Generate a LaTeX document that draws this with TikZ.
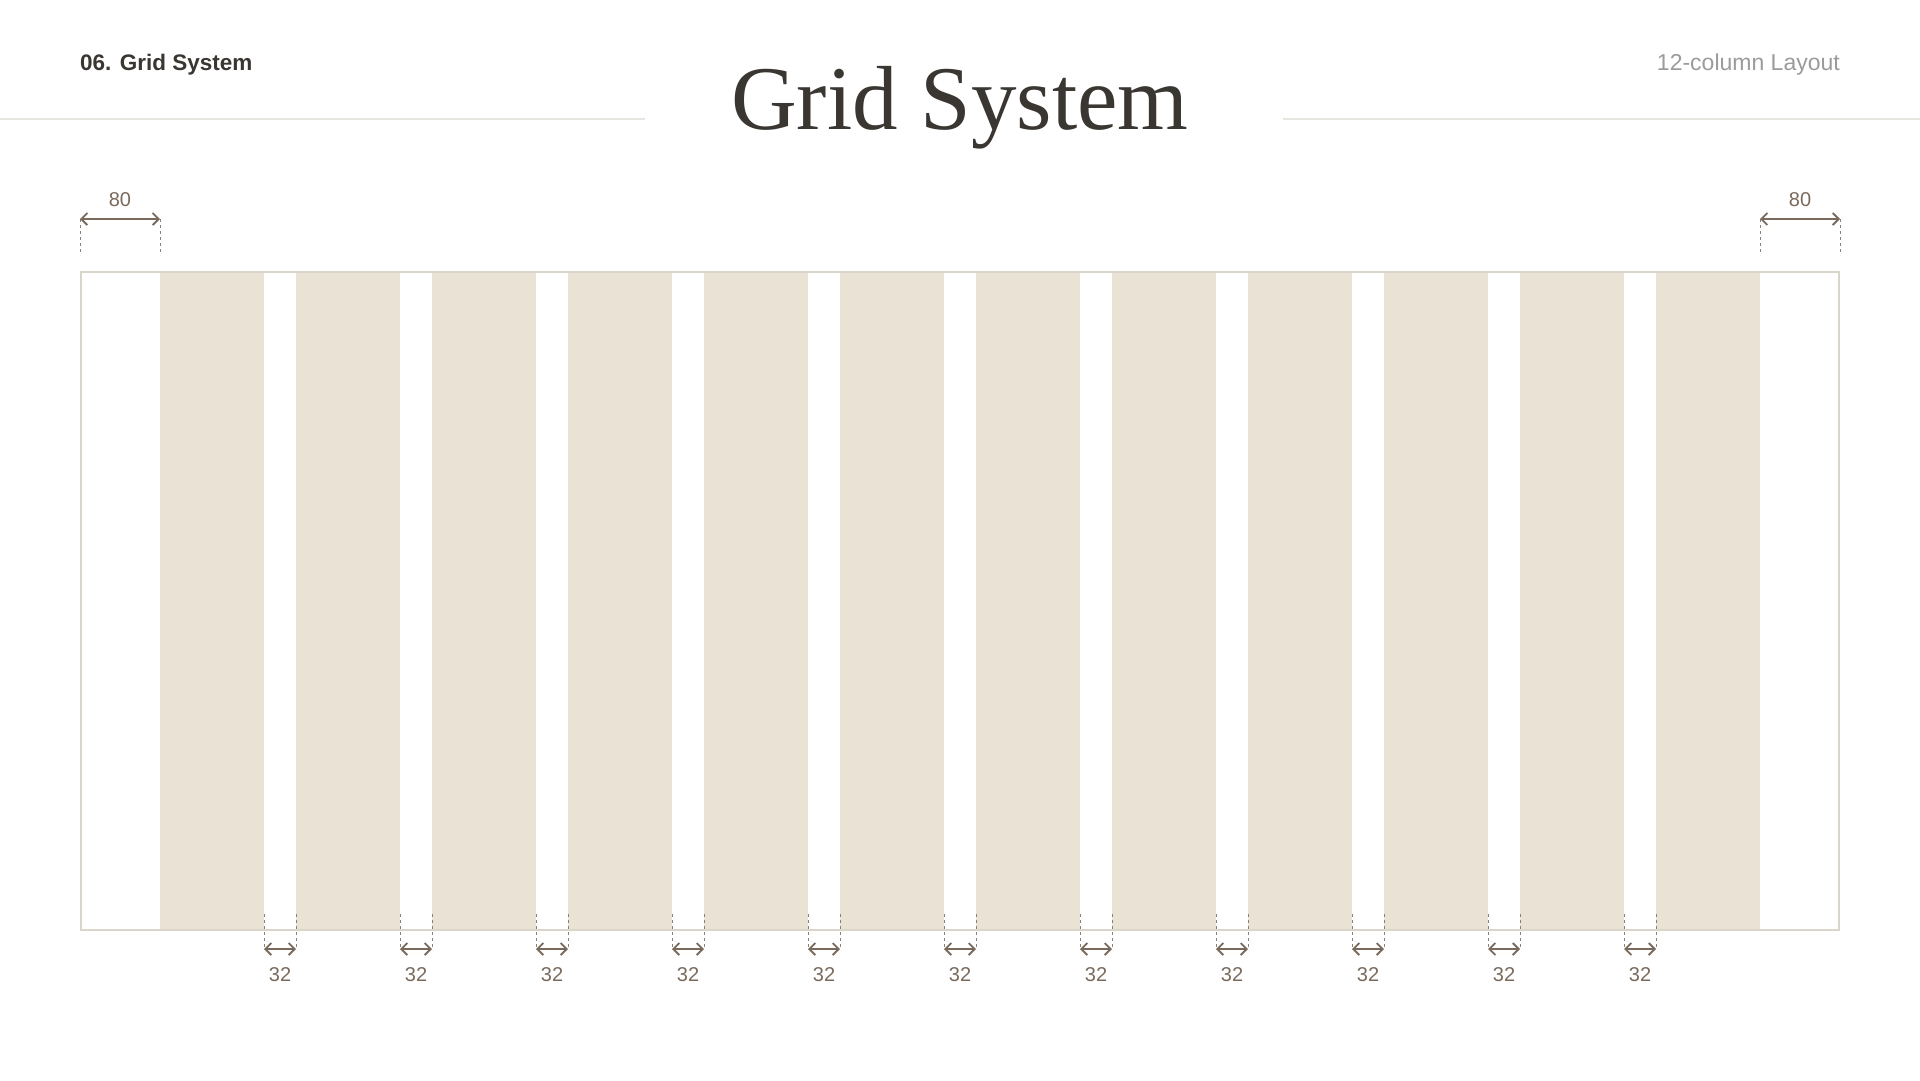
\documentclass[tikz,border=0pt]{standalone}
\usepackage{fontspec}
\setmainfont{Liberation Serif}
\setsansfont{Liberation Sans}
\usepackage{tikz}
\usetikzlibrary{arrows.meta}
\definecolor{ink}{HTML}{3A3631}
\definecolor{rulegray}{HTML}{E7E5E0}
\definecolor{colfill}{HTML}{EAE3D5}
\definecolor{framegray}{HTML}{D9D5CA}
\definecolor{dimbrown}{HTML}{7A6A5B}
\definecolor{subgray}{HTML}{9B9B9B}
\newcommand{\px}[1]{\fontsize{#1}{#1}\selectfont}
\tikzset{
	dimline/.style={dimbrown, line width=1.8pt, {Straight Barb[length=6pt, width=12pt]}-{Straight Barb[length=6pt, width=12pt]}},
	extline/.style={dimbrown!85, line width=1pt, dash pattern=on 3pt off 3pt},
	dimlabel/.style={text=dimbrown, font=\sffamily\px{20}, inner sep=0pt},
}

\begin{document}
\begin{tikzpicture}[x=1pt, y=-1pt]
		\useasboundingbox[fill=white](0, 0)rectangle(1920, 1080);
		\node[anchor=base west, inner sep=0pt, text=ink, font=\sffamily\bfseries\px{22.5}](section)at(80, 70){06. Grid System};
		\node[anchor=base east, inner sep=0pt, text=subgray, font=\sffamily\px{23}](subtitle)at(1840, 70){12-column Layout};
		\node[anchor=base, inner sep=0pt, text=ink, font=\px{91}](title)at(960, 129){Grid System};
		\draw[rulegray, line width=2pt](0, 119)--(645, 119);
		\draw[rulegray, line width=2pt](1283, 119)--(1920, 119);
		\foreach \i in {0, ..., 11}
			\fill[colfill]({160+136*\i}, 272)rectangle({264+136*\i}, 930);
		\draw[framegray, line width=2pt](81, 272)rectangle(1839, 930);
		\coordinate(ml)at(80, 219);
		\coordinate(mr)at(160, 219);
		\draw[extline](ml)--(80, 255);
		\draw[extline](mr)--(160, 255);
		\draw[dimline](ml)--(mr);
		\node[dimlabel](mleft)at(120, 200){80};
		\coordinate(nl)at(1760, 219);
		\coordinate(nr)at(1840, 219);
		\draw[extline](nl)--(1760, 255);
		\draw[extline](nr)--(1840, 255);
		\draw[dimline](nl)--(nr);
		\node[dimlabel](mright)at(1800, 200){80};
		\foreach \i in {0, ..., 10}{
			\coordinate(gl\i)at({264+136*\i}, 949);
			\coordinate(gr\i)at({296+136*\i}, 949);
			\draw[extline]({264+136*\i}, 914)--(gl\i);
			\draw[extline]({296+136*\i}, 914)--(gr\i);
			\draw[dimline](gl\i)--(gr\i);
			\node[dimlabel](gw\i)at({280+136*\i}, 975){32};
		}
	\end{tikzpicture}
\end{document}
